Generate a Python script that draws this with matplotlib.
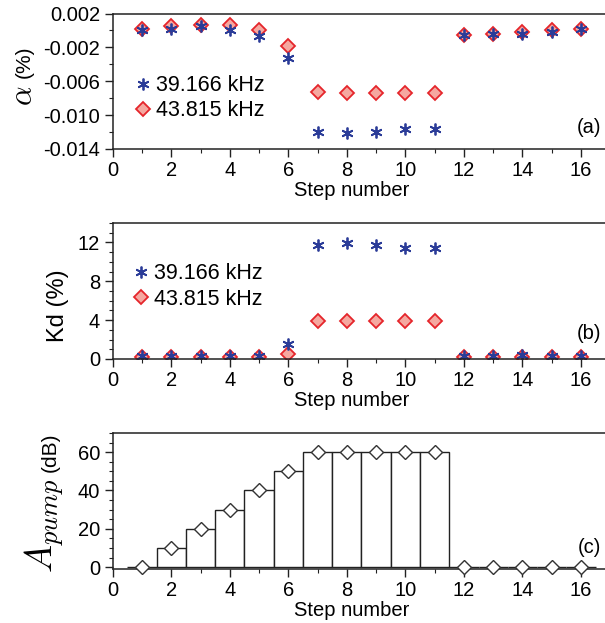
import matplotlib
matplotlib.use('Agg')
import matplotlib.pyplot as plt
from matplotlib.ticker import MultipleLocator
import numpy as np

plt.rcParams['font.family'] = ['Liberation Sans', 'DejaVu Sans']
plt.rcParams['mathtext.fontset'] = 'cm'

steps = np.arange(1, 17)

# alpha (%) for the two frequencies
alpha_39 = [0.0000, 0.00012, 0.0005, 0.0001, -0.00067, -0.00325, -0.01196, -0.01212,
            -0.0120, -0.01165, -0.01165, -0.00055, -0.00043, -0.0004, -0.0002, 0.0002]
alpha_43 = [0.0002, 0.0005, 0.0006, 0.0006, 0.00004, -0.00184, -0.00725, -0.0074,
            -0.0074, -0.0074, -0.0074, -0.00055, -0.0004, -0.00016, 0.0, 0.0002]

# Kd (%)
kd_39 = [0.27, 0.27, 0.27, 0.27, 0.27, 1.54, 11.73, 11.9, 11.73, 11.45, 11.45,
         0.27, 0.27, 0.4, 0.27, 0.27]
kd_43 = [0.2, 0.2, 0.2, 0.2, 0.2, 0.55, 3.87, 3.87, 3.87, 3.87, 3.87,
         0.2, 0.2, 0.2, 0.2, 0.2]

# pump amplitude (dB)
a_pump = [0, 10, 20, 30, 40, 50, 60, 60, 60, 60, 60, 0, 0, 0, 0, 0]

labels = ['39.166 kHz', '43.815 kHz']

blue = '#2b3c98'
red_face = '#f5a8a0'
red_edge = '#e5252b'
spine_c = '#222222'
fs = 14.5

W, H = 605, 623
fig = plt.figure(figsize=(W / 100, H / 100), dpi=100)
x0_px = 112.7
px_per_step = 29.27
left = x0_px / W
xmax = (W - x0_px) / px_per_step


def make_ax(top_px, bot_px):
    ax = fig.add_axes([left, 1 - bot_px / H, 1 - left, (bot_px - top_px) / H])
    ax.spines['right'].set_visible(False)
    for s in ['top', 'left', 'bottom']:
        ax.spines[s].set_color(spine_c)
        ax.spines[s].set_linewidth(1.1)
    ax.tick_params(which='both', direction='out', top=False, right=False,
                   labelsize=fs, color=spine_c, pad=3)
    ax.tick_params(which='major', length=6, width=1)
    ax.tick_params(which='minor', length=3, width=0.8)
    ax.set_xlim(0, xmax)
    ax.xaxis.set_major_locator(MultipleLocator(2))
    ax.xaxis.set_minor_locator(MultipleLocator(1))
    ax.set_xlabel('Step number', fontsize=fs)
    ax.xaxis.set_label_coords((352 - x0_px) / (W - x0_px), -0.235)
    return ax


def ylab(x_px, y_px, s, size, **kw):
    fig.text(x_px / W, 1 - y_px / H, s, rotation=90, ha='center', va='center',
             fontsize=size, **kw)


# (a)
ax1 = make_ax(13.5, 149)
ax1.plot(steps, alpha_43, ls='none', marker='D', ms=7, mfc=red_face, mec=red_edge,
         mew=1.3, label=labels[1])
ax1.plot(steps, alpha_39, ls='none', marker=(6, 2, 0), ms=8.5, mec=blue, mew=1.3,
         label=labels[0])
ax1.set_ylim(-0.014, 0.002)
ax1.set_yticks([0.002, -0.002, -0.006, -0.010, -0.014])
ax1.set_yticklabels(['0.002', '-0.002', '-0.006', '-0.010', '-0.014'])
ax1.yaxis.set_minor_locator(MultipleLocator(0.002))
h, l = ax1.get_legend_handles_labels()
ax1.legend(h[::-1], l[::-1], loc='center left', bbox_to_anchor=(0.031, 0.374),
           frameon=False, fontsize=15.5, handlelength=0.6, handletextpad=0.3,
           labelspacing=0.2, borderpad=0.4, borderaxespad=0)
ax1.text(0.993, 0.155, '(a)', transform=ax1.transAxes, ha='right', va='center', fontsize=fs)
ylab(24, 96, r'$\alpha$', 22)
ylab(24, 62, '(%)', 15)

# (b)
ax2 = make_ax(223, 359)
ax2.plot(steps, kd_43, ls='none', marker='D', ms=7, mfc=red_face, mec=red_edge,
         mew=1.3, label=labels[1])
ax2.plot(steps, kd_39, ls='none', marker=(6, 2, 0), ms=8.5, mec=blue, mew=1.3,
         label=labels[0])
ax2.set_ylim(0, 14)
ax2.yaxis.set_major_locator(MultipleLocator(4))
ax2.yaxis.set_minor_locator(MultipleLocator(1))
h, l = ax2.get_legend_handles_labels()
ax2.legend(h[::-1], l[::-1], loc='center left', bbox_to_anchor=(0.027, 0.533),
           frameon=False, fontsize=15.5, handlelength=0.6, handletextpad=0.3,
           labelspacing=0.2, borderpad=0.4, borderaxespad=0)
ax2.text(0.993, 0.19, '(b)', transform=ax2.transAxes, ha='right', va='center', fontsize=fs)
ylab(58, 306, 'Kd (%)', 17)

# (c)
ax3 = make_ax(433, 569)
ax3.bar(steps, a_pump, width=1.0, color='white', edgecolor='#222222', linewidth=1.0,
        zorder=2)
ax3.plot(steps, a_pump, ls='none', marker='D', ms=7, mfc='white', mec='#333333',
         mew=1.0, zorder=3, clip_on=False)
ax3.set_ylim(-1, 70)
ax3.yaxis.set_major_locator(MultipleLocator(20))
ax3.yaxis.set_minor_locator(MultipleLocator(5))
ax3.text(0.993, 0.16, '(c)', transform=ax3.transAxes, ha='right', va='center', fontsize=fs)
ylab(44, 526, r'$A_{pump}$', 27)
ylab(50, 452, '(dB)', 15)

fig.savefig('out.png', dpi=100)
